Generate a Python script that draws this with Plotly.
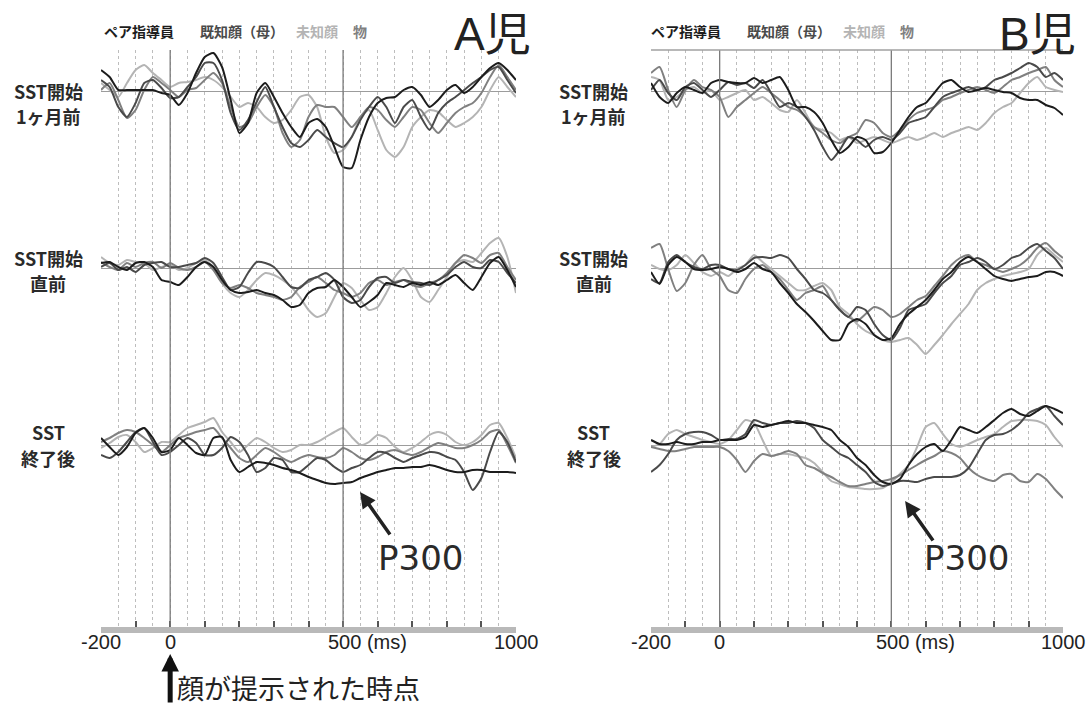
import plotly.graph_objects as go

# ---------------- data ----------------
time_ms = list(range(-200, 1001, 25))

series_names = ["ペア指導員", "既知顔（母）", "未知顔", "物"]
series_colors = ["#1c1c1c", "#4a4a4a", "#b4b4b4", "#808080"]
row_labels_top = ["SST開始", "SST開始", "SST"]
row_labels_bottom = ["1ヶ月前", "直前", "終了後"]
tick_vals = [-200, 0, 500, 1000]
tick_text = ["-200", "0", "500 (ms)", "1000"]

# A児 : SST開始1ヶ月前
A1_pair = [2.1,1.4,0.1,0.1,0.1,0.1,0.1,-0.2,-0.4,-1.4,-0.2,1.8,3.4,3.8,2.4,-0.9,-4.2,-3.2,-0.2,0.8,-0.6,-2.2,-3.6,-4.6,-3.2,-2.8,-3.6,-5.6,-7.6,-7.7,-4.9,-2.6,-1.2,-0.7,-0.6,0.1,0.4,-0.4,-1.6,-0.9,0.1,0.6,-0.2,0.4,1.4,2.3,2.8,2.1,1.1]
A1_known = [1.1,0.4,-1.6,-2.6,-1.2,0.8,1.1,0.3,-0.7,-0.6,0.4,1.4,2.8,2.8,1.1,-2.2,-3.9,-2.9,-1.1,0.4,-1.6,-3.6,-5.2,-5.6,-4.9,-3.9,-4.6,-5.2,-5.6,-4.6,-2.9,-1.6,-0.6,-1.6,-3.2,-1.6,-0.9,-2.6,-3.9,-2.2,-1.2,-0.6,0.1,0.8,1.4,2.1,2.4,1.1,-0.2]
A1_unknown = [0.8,0.1,-0.6,0.8,2.1,2.6,1.8,1.1,0.4,0.8,0.9,1.1,1.4,1.1,0.4,-0.6,-1.6,-1.2,-1.6,-2.6,-3.2,-2.9,-1.9,-0.6,-0.4,-1.6,-4.6,-6.2,-5.9,-4.6,-2.6,-1.9,-3.9,-5.9,-6.6,-5.6,-3.6,-2.6,-1.9,-2.1,-2.9,-3.6,-3.2,-2.6,-1.6,0.1,1.4,0.4,-0.6]
A1_object = [0.1,0.8,-0.9,-2.7,-1.9,0.1,1.4,0.8,0.1,-0.6,0.1,0.3,1.1,1.8,0.8,-1.6,-3.6,-3.2,-1.6,-0.4,-1.6,-4.2,-5.6,-4.9,-2.6,-1.4,-1.6,-1.6,-2.6,-3.6,-2.6,-1.6,-1.9,-2.9,-3.6,-2.6,-1.6,-1.9,-3.2,-4.2,-3.2,-2.2,-1.6,-1.2,-0.2,1.4,2.6,1.4,0.1]

# A児 : SST開始直前
A2_pair = [0.5,0.6,0.1,-0.2,0.5,0.6,0.1,-1.2,-1.4,-1.7,-0.9,0.1,0.6,0.1,-1.2,-2.2,-2.5,-2.4,-2.2,-2.5,-2.7,-3.2,-3.9,-3.7,-2.5,-2.0,-1.9,-1.2,-1.9,-2.9,-3.9,-3.4,-2.7,-1.5,-1.7,-1.9,-1.5,-1.7,-1.4,-1.7,-1.2,-0.7,-1.5,-2.2,-0.9,0.5,1.1,-0.2,-1.9]
A2_known = [0.1,0.5,-0.2,0.1,-0.4,0.3,0.5,0.6,0.1,0.1,0.3,0.5,1.0,0.5,-0.9,-2.2,-1.9,-0.5,0.6,0.5,0.1,-0.9,-1.9,-2.0,-1.2,-0.9,-0.5,-1.2,-2.9,-3.5,-3.2,-1.9,-1.0,-0.9,-1.5,-1.2,-1.4,-1.5,-1.7,-1.2,-0.7,0.1,0.6,0.1,0.0,0.8,0.6,-0.5,-1.5]
A2_unknown = [1.1,0.5,0.3,0.8,0.6,0.5,-0.2,0.1,0.3,-0.2,0.0,0.5,0.8,0.1,-1.5,-2.5,-2.9,-2.2,-1.2,-0.5,-0.7,-1.2,-1.9,-2.9,-4.2,-4.9,-4.5,-2.9,-1.5,-2.0,-3.2,-4.2,-3.9,-2.5,-0.9,0.0,-1.2,-2.9,-3.4,-2.2,-0.9,0.5,0.8,0.6,1.5,2.5,3.0,1.1,-2.5]
A2_object = [0.6,0.1,-0.2,0.5,0.1,0.5,0.6,0.0,0.5,0.0,-0.2,0.1,0.6,-0.2,-1.5,-2.0,-1.7,-2.0,-2.5,-2.7,-2.9,-3.2,-2.9,-1.9,-1.4,-0.9,-1.5,-2.2,-2.5,-2.9,-2.5,-1.5,-1.2,-1.7,-1.4,-1.2,-1.7,-1.9,-1.5,-1.2,-0.5,0.5,1.3,1.0,0.5,1.3,1.5,0.1,-1.2]

# A児 : SST終了後
A3_pair = [0.7,-0.2,-1.0,-0.2,1.2,1.7,0.7,-0.7,-0.5,0.7,0.0,-0.8,-1.0,0.7,0.8,-1.5,-2.7,-2.2,-1.7,-1.8,-2.0,-2.3,-2.5,-2.8,-3.2,-3.5,-3.8,-3.9,-3.8,-3.7,-3.3,-3.0,-2.7,-2.5,-2.3,-2.3,-2.2,-2.2,-2.0,-2.2,-2.5,-2.7,-2.7,-2.5,-2.5,-2.7,-2.7,-2.7,-2.8]
A3_known = [-1.0,-1.3,-0.7,0.3,1.3,1.7,0.3,-1.0,-0.7,0.0,0.7,0.2,-1.0,-1.0,-0.3,0.8,0.3,-1.0,-2.7,-2.3,-1.3,-1.5,-2.7,-2.7,-2.0,-1.3,-1.5,-2.2,-2.7,-2.3,-2.0,-1.3,-0.7,-0.8,-1.3,-1.7,-1.3,-1.0,-0.7,-0.8,-1.2,-1.5,-2.7,-4.5,-3.3,-0.7,1.3,0.3,-1.7]
A3_unknown = [-0.3,0.2,0.8,1.0,0.3,-0.7,-0.3,0.3,0.3,1.0,1.7,2.0,2.3,2.7,1.3,0.3,-0.7,0.0,0.7,0.3,-0.3,-0.7,-0.5,0.0,0.0,0.3,0.8,1.3,1.7,0.8,0.0,0.3,1.0,0.7,-0.2,-0.7,-0.3,0.3,1.0,1.3,1.0,0.3,0.0,0.3,1.0,2.0,2.2,0.7,-1.3]
A3_object = [0.3,0.7,1.2,1.5,1.3,0.7,0.0,-0.7,0.0,0.7,1.0,1.3,1.5,1.7,0.7,-0.3,-1.3,-1.7,-1.0,-0.3,-0.7,-1.3,-1.7,-1.3,-1.0,-1.2,-1.3,-1.0,-0.3,-0.7,-1.3,-1.5,-1.2,-0.7,-0.5,-0.8,-1.0,-0.7,-0.2,0.2,0.0,-0.3,-0.3,0.0,0.5,1.3,1.5,0.0,-1.8]

# B児 : SST開始1ヶ月前
B1_pair = [0.8,-0.6,-1.2,-0.2,0.4,0.1,-0.2,0.8,1.1,0.9,0.8,0.8,1.3,0.8,1.1,1.4,0.1,-1.6,-1.6,-2.1,-3.2,-4.9,-6.2,-5.6,-4.6,-4.9,-6.2,-6.1,-5.2,-3.9,-2.6,-1.6,-1.2,-0.2,0.8,1.1,0.4,-0.1,0.1,0.3,0.1,-0.1,-0.2,-0.7,-0.9,-0.9,-1.4,-1.7,-2.4]
B1_known = [0.1,1.1,-0.2,-0.9,0.4,0.8,0.1,-0.6,0.1,0.9,0.6,0.8,0.3,1.1,-0.2,-1.6,-1.2,-1.6,-2.6,-3.9,-5.6,-6.9,-5.9,-4.6,-4.9,-5.6,-4.9,-4.6,-4.9,-4.2,-3.2,-2.9,-2.6,-1.6,-0.6,-0.2,0.1,0.4,0.1,0.4,1.1,1.4,1.8,2.3,2.8,2.4,1.4,1.8,1.1]
B1_unknown = [1.4,1.1,-0.9,-0.6,0.1,0.4,-0.2,0.1,-0.9,-0.6,-0.2,0.1,-0.9,-0.6,-1.2,-1.9,-2.1,-0.9,-2.2,-3.6,-3.9,-4.2,-4.9,-4.6,-5.2,-4.9,-4.6,-4.9,-5.2,-4.9,-4.6,-4.9,-4.6,-4.2,-4.6,-4.2,-3.9,-3.6,-3.9,-3.2,-2.2,-1.6,-1.2,-0.2,0.8,1.4,0.4,0.1,-0.1]
B1_object = [1.8,2.4,0.1,-1.6,0.1,1.1,0.4,0.1,-0.6,-2.6,-1.6,-0.9,-0.2,0.4,-0.2,-0.9,-1.6,-1.9,-2.6,-3.6,-4.2,-4.9,-5.2,-4.6,-4.2,-2.9,-3.2,-4.2,-4.6,-3.9,-2.9,-2.2,-1.9,-1.6,-0.9,-0.6,-0.2,0.1,0.4,0.1,-0.2,0.4,1.1,1.4,1.8,2.1,2.4,1.1,0.4]

# B児 : SST開始直前
B2_pair = [-0.4,-1.6,0.3,1.1,0.6,-0.1,-0.2,-0.1,0.1,-0.1,-0.4,-0.1,0.5,-0.1,-0.4,-1.5,-2.5,-3.6,-4.4,-5.3,-6.3,-7.2,-7.2,-5.6,-5.1,-5.6,-6.7,-7.2,-7.0,-5.6,-4.6,-3.9,-3.2,-2.2,-1.1,-0.4,0.6,1.1,0.6,-0.1,-0.8,-1.1,-1.3,-1.1,-0.9,-0.8,-0.4,-0.4,-0.8]
B2_known = [-1.1,-1.5,0.6,1.3,0.6,0.1,-0.1,0.3,0.3,-0.1,-0.2,0.3,1.0,1.1,1.0,1.3,1.0,-0.1,-1.1,-2.2,-2.5,-3.2,-4.2,-4.9,-3.9,-4.2,-5.6,-6.7,-7.2,-6.0,-4.2,-3.9,-3.6,-2.5,-1.5,-0.8,0.3,0.6,1.0,0.6,-0.1,0.3,1.0,1.3,2.0,2.4,1.7,1.0,-0.1]
B2_unknown = [0.3,-0.1,-0.2,0.3,1.3,0.5,-0.4,-0.8,-0.4,-0.8,-0.1,0.3,1.3,0.6,-0.1,-0.8,-1.5,-2.2,-2.2,-1.8,-1.5,-2.2,-3.9,-4.6,-5.6,-6.3,-6.7,-7.2,-7.4,-7.2,-7.0,-7.7,-8.6,-7.7,-6.7,-5.6,-4.6,-3.6,-2.2,-1.5,-1.1,-0.8,-0.6,-0.4,-0.1,1.3,2.0,1.3,0.6]
B2_object = [2.0,2.4,-0.1,-2.3,-1.5,0.3,1.3,-0.1,-0.8,-2.2,-2.5,-1.1,-0.1,0.3,-0.4,-1.1,-2.2,-3.2,-2.5,-2.2,-1.8,-3.2,-4.2,-4.9,-5.3,-4.6,-3.9,-4.2,-4.9,-4.6,-3.9,-3.2,-2.8,-1.8,-0.8,0.3,1.0,1.3,0.6,0.3,-0.1,-0.4,-0.1,0.3,1.0,2.0,2.5,1.7,1.0]

# B児 : SST終了後
B3_pair = [0.5,0.1,0.1,0.3,0.1,0.1,0.3,0.3,0.5,0.5,0.5,0.8,2.0,1.8,2.0,2.2,2.4,2.2,2.2,2.0,1.8,1.5,0.5,-0.2,-1.3,-2.0,-3.0,-3.7,-3.9,-3.4,-2.0,-0.9,-0.2,0.1,-0.6,0.5,1.8,1.5,1.2,1.8,2.5,3.2,3.6,3.1,2.9,3.4,3.9,3.6,3.2]
B3_known = [-2.7,-2.0,-0.9,0.5,1.1,1.3,1.3,1.0,0.5,0.6,0.6,1.1,2.5,2.2,2.0,2.2,2.2,2.4,2.2,1.7,0.5,-0.2,-0.9,-1.3,-2.0,-2.7,-3.7,-4.1,-3.9,-3.6,-3.6,-3.7,-3.4,-3.2,-3.2,-3.2,-3.0,-2.3,-0.9,0.5,1.0,1.1,1.5,2.2,3.2,3.6,3.9,2.9,2.0]
B3_unknown = [-0.2,0.1,1.1,1.5,1.1,0.8,0.5,0.3,0.1,0.5,1.5,2.5,2.2,0.5,-1.1,-0.9,-0.9,-1.1,-1.3,-1.8,-2.7,-3.6,-3.9,-4.2,-4.3,-4.4,-4.4,-4.3,-3.7,-2.9,-2.0,-0.2,1.8,2.2,1.1,0.1,-0.2,0.1,0.5,0.8,1.1,1.8,2.4,2.5,2.5,2.4,2.0,0.8,-0.2]
B3_object = [-0.2,-0.4,-0.6,-0.6,-0.4,-0.2,-0.2,-0.2,-0.2,-0.6,-1.5,-2.7,-1.6,-0.9,-1.1,-0.9,-0.6,-0.9,-2.0,-2.3,-2.8,-3.2,-3.7,-4.1,-4.1,-3.9,-3.7,-3.6,-3.4,-3.0,-2.5,-2.0,-1.5,-1.1,-0.6,-0.8,-1.3,-2.3,-3.0,-3.4,-3.6,-3.0,-2.9,-3.6,-3.7,-2.9,-3.4,-4.4,-5.3]

panels = {
    "A": [[A1_pair, A1_known, A1_unknown, A1_object],
          [A2_pair, A2_known, A2_unknown, A2_object],
          [A3_pair, A3_known, A3_unknown, A3_object]],
    "B": [[B1_pair, B1_known, B1_unknown, B1_object],
          [B2_pair, B2_known, B2_unknown, B2_object],
          [B3_pair, B3_known, B3_unknown, B3_object]],
}

# ---------------- geometry ----------------
W, H = 1091, 708
def px_y(p):
    return 1 - p / H

panel_x = {"A": (101 / W, 516 / W), "B": (651 / W, 1063 / W)}
row_dom = [(px_y(224), px_y(50)), (px_y(401), px_y(224)), (px_y(627), px_y(401))]
row_range = [(-13.3, 4.1), (-13.3, 4.4), (-18.2, 4.4)]
label_line_y = [(91, 116), (258, 283), (432, 458)]

GRID = "#bdbdbd"
fig = go.Figure()
layout = dict(
    width=W, height=H, margin=dict(l=0, r=0, t=0, b=0),
    paper_bgcolor="white", plot_bgcolor="white", showlegend=False,
    annotations=[], shapes=[],
)

draw_order = [2, 3, 1, 0]
k = 0
for pi, pname in enumerate(["A", "B"]):
    for r in range(3):
        k += 1
        xa, ya = f"xaxis{k}", f"yaxis{k}"
        xr, yr = f"x{k}", f"y{k}"
        last = (r == 2)
        layout[xa] = dict(
            domain=list(panel_x[pname]), anchor=yr, range=[-200, 1000],
            tickmode="linear", tick0=-200, dtick=100,
            showgrid=True, gridcolor=GRID, griddash="dot", gridwidth=1,
            minor=dict(tickmode="linear", tick0=-200, dtick=50, showgrid=True,
                       gridcolor=GRID, griddash="dot", gridwidth=1, ticks=""),
            zeroline=False, showticklabels=False,
            ticks="inside" if last else "", ticklen=6, tickwidth=1.5, tickcolor="#555",
            showline=last, linecolor="#b9b9b9", linewidth=6,
            fixedrange=True,
        )
        layout[ya] = dict(
            domain=list(row_dom[r]), anchor=xr, range=list(row_range[r]),
            showgrid=False, showticklabels=False, ticks="",
            zeroline=True, zerolinecolor="#9c9c9c", zerolinewidth=1.2,
            fixedrange=True,
        )
        for si in draw_order:
            vals = panels[pname][r][si]
            fig.add_trace(go.Scatter(
                x=time_ms[:len(vals)], y=vals, xaxis=xr, yaxis=yr, mode="lines",
                name=series_names[si],
                line=dict(color=series_colors[si], width=2, shape="spline", smoothing=0.6),
                hoverinfo="skip",
            ))
        # row label (two separate lines)
        cx = 48 / W if pname == "A" else 594 / W
        for txt, ly in zip([row_labels_top[r], row_labels_bottom[r]], label_line_y[r]):
            layout["annotations"].append(dict(
                xref="paper", yref="paper", x=cx, y=px_y(ly), text=f"<b>{txt}</b>",
                showarrow=False, xanchor="center", yanchor="middle",
                font=dict(family="Noto Sans CJK JP", size=18, color="#2a2a2a"),
            ))
    xref_last = f"x{k}"
    yref_last = f"y{k}"
    # vertical solid lines at 0 and 500
    for v in [0, 500]:
        layout["shapes"].append(dict(
            type="line", xref=xref_last, yref="paper", x0=v, x1=v,
            y0=px_y(627), y1=px_y(50), line=dict(color="#7a7a7a", width=1.3),
        ))
    # tick labels
    for tv, tt in zip(tick_vals, tick_text):
        layout["annotations"].append(dict(
            xref=xref_last, yref="paper", x=tv, y=px_y(642), text=tt, showarrow=False,
            xanchor="left" if tv == 500 else "center", xshift=-17 if tv == 500 else 0,
            yanchor="middle",
            font=dict(family="Liberation Sans", size=20, color="#222"),
        ))
    # legend texts
    x0 = 102 if pname == "A" else 649
    offs = [0, 96, 192, 249]
    for si in range(4):
        layout["annotations"].append(dict(
            xref="paper", yref="paper", x=(x0 + offs[si]) / W, y=px_y(31),
            text=f"<b>{series_names[si]}</b>", showarrow=False, xanchor="left", yanchor="middle",
            font=dict(family="Noto Sans CJK JP", size=14, color=series_colors[si]),
        ))
    # panel title
    tx = 452 if pname == "A" else 997
    layout["annotations"].append(dict(
        xref="paper", yref="paper", x=tx / W, y=px_y(34), text=f"{pname}児", showarrow=False,
        xanchor="left", yanchor="middle",
        font=dict(family="Liberation Sans, Noto Sans CJK JP", size=46, color="#222"),
    ))
    # P300 arrow + text
    head_t, head_v, axo, ayo = (549, -4.7, 31, 44) if pname == "A" else (540, -5.6, 29, 41)
    layout["annotations"].append(dict(
        xref=xref_last, yref=yref_last, x=head_t, y=head_v, text="", showarrow=True,
        ax=axo, ay=ayo, arrowhead=2, arrowsize=0.9, arrowwidth=3.5, arrowcolor="#222",
    ))
    ptx = 725 if pname == "A" else 718
    layout["annotations"].append(dict(
        xref=xref_last, yref=yref_last, x=ptx, y=-11.3, text="P300", showarrow=False,
        xanchor="center", yanchor="middle",
        font=dict(family="DejaVu Sans", size=34, color="#2a2a2a"),
    ))

# B panel top border
layout["shapes"].append(dict(
    type="line", xref="paper", yref="paper", x0=panel_x["B"][0], x1=panel_x["B"][1],
    y0=px_y(50), y1=px_y(50), line=dict(color="#a0a0a0", width=1.5),
))

# stimulus onset arrow and caption under panel A
layout["annotations"].append(dict(
    xref="x3", yref="paper", x=0, y=px_y(654), text="", showarrow=True,
    ax=0, ay=50, arrowhead=2, arrowsize=0.7, arrowwidth=5, arrowcolor="#111",
))
layout["annotations"].append(dict(
    xref="x3", yref="paper", x=0, y=px_y(687), text="顔が提示された時点", showarrow=False,
    xanchor="left", yanchor="middle", xshift=5,
    font=dict(family="Noto Sans CJK JP", size=27, color="#222"),
))

fig.update_layout(**layout)
fig.write_html("out.html")
